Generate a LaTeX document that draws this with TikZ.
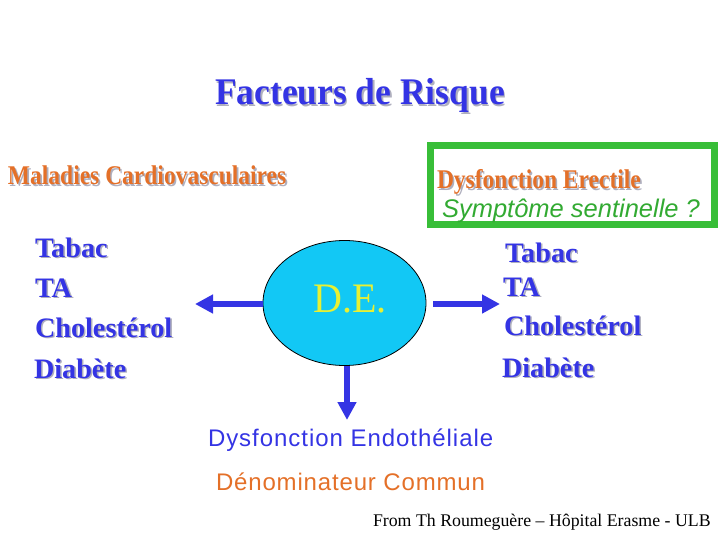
\documentclass[tikz,border=0pt]{standalone}
\usepackage{fontspec}
\setmainfont{Liberation Serif}
\newfontfamily\arialf{Liberation Sans}
\newfontfamily\arialsp[LetterSpace=4.0]{Liberation Sans}
\newfontfamily\arialspb[LetterSpace=3.5]{Liberation Sans}
\usetikzlibrary{arrows.meta,shapes.geometric}
\definecolor{tblue}{RGB}{52,52,228}
\definecolor{aorange}{RGB}{228,112,40}
\definecolor{sgreen}{RGB}{50,170,50}
\definecolor{bgreen}{RGB}{56,190,56}
\definecolor{decyan}{RGB}{18,200,245}
\definecolor{deyellow}{RGB}{232,240,50}
\definecolor{shgray}{RGB}{175,175,190}
\newcommand{\shtext}[1]{\makebox[0pt][l]{\raisebox{-1.6pt}{\hspace{1.6pt}\textcolor{shgray}{#1}}}#1}
\begin{document}
\begin{tikzpicture}[x=1pt,y=-1pt,
  txt/.style={anchor=base west,inner sep=0pt,outer sep=0pt},
  listb/.style={txt,text=tblue,font=\fontsize{28.2}{30}\selectfont\bfseries},
  bigarrow/.style={draw=tblue,line width=6pt,-{Triangle[length=18pt,width=18pt]}}]
\useasboundingbox (0,0) rectangle (720,540);
% title
\node[txt,text=tblue,font=\fontsize{35.5}{40}\selectfont\bfseries] (title) at (215,105) {\scalebox{1}[1.06]{\shtext{Facteurs de Risque}}};
% left header
\node[txt,text=aorange,font=\fontsize{23.5}{26}\selectfont\bfseries] (mcv) at (8,185) {\scalebox{1}[1.15]{\shtext{Maladies Cardiovasculaires}}};
% green box
\draw[bgreen,line width=7pt] (430.5,145.5) rectangle (714.5,224.5);
\node[txt,text=aorange,font=\fontsize{23.5}{26}\selectfont\bfseries] (dye) at (437,189) {\scalebox{1}[1.15]{\shtext{Dysfonction Erectile}}};
\node[txt,text=sgreen,font=\arialf\fontsize{25.5}{28}\selectfont\itshape] (sym) at (442,218) {Symptôme sentinelle ?};
% left list
\node[listb] (l1) at (35,257) {\shtext{Tabac}};
\node[listb] (l2) at (35,297) {\shtext{TA}};
\node[listb] (l3) at (35,337) {\shtext{Cholestérol}};
\node[listb] (l4) at (34,378) {\shtext{Diabète}};
% right list
\node[listb] (r1) at (505,262) {\shtext{Tabac}};
\node[listb] (r2) at (503,296) {\shtext{TA}};
\node[listb] (r3) at (504,335) {\shtext{Cholestérol}};
\node[listb] (r4) at (502,377) {\shtext{Diabète}};
% ellipse
\node[ellipse,draw=black,line width=0.8pt,fill=decyan,minimum width=163pt,minimum height=125pt,inner sep=0pt] (de) at (344.5,303) {};
\node[text=deyellow,font=\fontsize{40}{44}\selectfont,anchor=base,inner sep=0pt] (detxt) at (350,312) {\scalebox{1}[1.05]{D.E.}};
% arrows
\coordinate (lt) at (195,304);
\coordinate (rt) at (500,304);
\coordinate (dt) at (347,420);
\coordinate (ls) at (263,304);
\coordinate (rs) at (433,304);
\draw[bigarrow] (ls) -- (lt);
\draw[bigarrow] (rs) -- (rt);
\draw[bigarrow] (de.south -| dt) -- (dt);
% bottom texts
\node[txt,text=tblue,font=\arialsp\fontsize{24}{28}\selectfont] (endo) at (208,446) {Dysfonction Endothéliale};
\node[txt,text=aorange,font=\arialspb\fontsize{24}{28}\selectfont] (denom) at (216,490) {Dénominateur Commun};
\node[txt,text=black,font=\fontsize{17.8}{20}\selectfont] (from) at (373,526) {From Th Roumeguère – Hôpital Erasme - ULB};
\end{tikzpicture}
\end{document}
